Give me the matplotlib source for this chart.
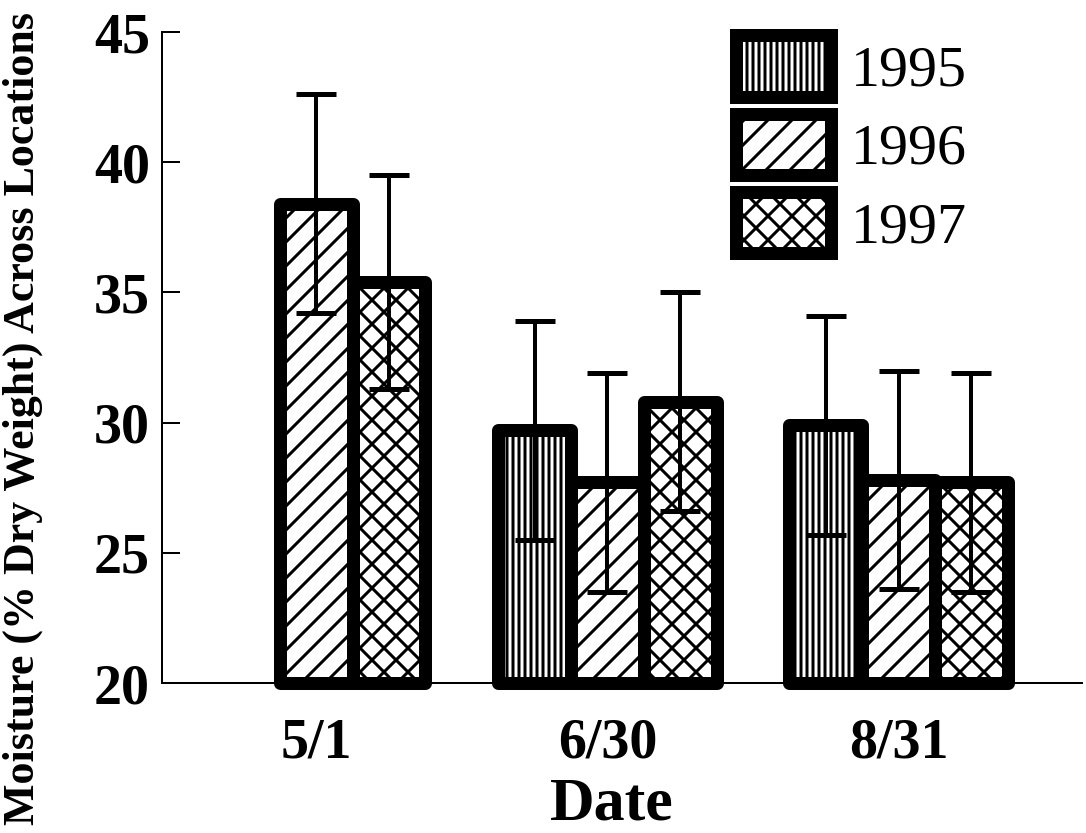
import numpy as np
import matplotlib
matplotlib.use("Agg")
import matplotlib.pyplot as plt

categories = ["5/1", "6/30", "8/31"]
years = ["1995", "1996", "1997"]
mean_1995 = [np.nan, 29.7, 29.9]
mean_1996 = [38.4, 27.7, 27.8]
mean_1997 = [35.4, 30.8, 27.7]
err_1995 = [np.nan, 4.2, 4.2]
err_1996 = [4.2, 4.2, 4.2]
err_1997 = [4.1, 4.2, 4.2]
yticks = [20, 25, 30, 35, 40, 45]

plt.rcParams["font.family"] = ["Liberation Serif", "DejaVu Serif"]
plt.rcParams["hatch.color"] = "black"
plt.rcParams["hatch.linewidth"] = 3

DPI = 72
fig = plt.figure(figsize=(1086 / DPI, 833 / DPI), dpi=DPI)
ax = fig.add_axes([162 / 1086, 150 / 833, 920 / 1086, 651 / 833])

means = [mean_1995, mean_1996, mean_1997]
errs = [err_1995, err_1996, err_1997]
hatches = ["||", "/", "x"]
width = 0.25
offsets = [-width, 0.0, width]
x = np.arange(len(categories))

for k in range(3):
    m = np.array(means[k], dtype=float)
    e = np.array(errs[k], dtype=float)
    ok = ~np.isnan(m)
    xs = x[ok] + offsets[k]
    bars = ax.bar(xs, m[ok] - 20, bottom=20, width=width, facecolor="white",
                  edgecolor="black", linewidth=13, hatch=hatches[k],
                  clip_on=False, zorder=2, label=years[k])
    for b in bars:
        b.set_joinstyle("round")
    ax.errorbar(xs, m[ok], yerr=e[ok], fmt="none", ecolor="black",
                elinewidth=4, capsize=20, capthick=5, zorder=3, clip_on=False)

ax.set_xlim(-0.53, 2.63)
ax.set_ylim(20, 45)
ax.set_yticks(yticks)
ax.set_xticks(x)
ax.set_xticklabels(categories)
ax.spines["top"].set_visible(False)
ax.spines["right"].set_visible(False)
ax.spines["left"].set_linewidth(2)
ax.spines["bottom"].set_linewidth(2)
ax.tick_params(axis="y", direction="in", length=18, width=2, pad=12,
               labelsize=56)
ax.tick_params(axis="x", length=0, pad=34, labelsize=56)
for lab in ax.get_yticklabels() + ax.get_xticklabels():
    lab.set_fontweight("bold")

fig.text(612 / 1086, 1 - 805 / 833, "Date", ha="center", va="center",
         fontsize=62, fontweight="bold")
fig.text(23 / 1086, 0.497, "Moisture (% Dry Weight) Across Locations",
         rotation=90, ha="center", va="center", fontsize=44, fontweight="bold")

leg = ax.legend(loc="upper left", bbox_to_anchor=((736 - 162) / 920, 0.995),
                frameon=False, fontsize=58, handlelength=1.63, handleheight=1.25,
                handletextpad=0.35, labelspacing=0.28, borderpad=0, borderaxespad=0)

fig.savefig("out.png", dpi=DPI)
